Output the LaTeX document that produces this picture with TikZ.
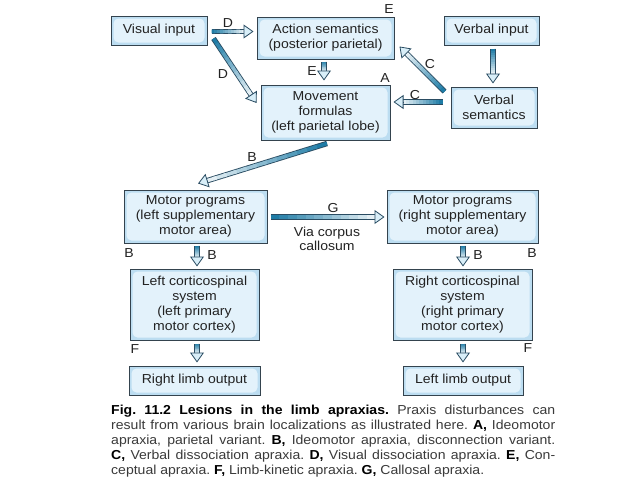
\documentclass[tikz,border=0pt]{standalone}
\usepackage{fontspec}
\setmainfont{Liberation Sans}[FakeStretch=1.08]
\usetikzlibrary{arrows.meta,calc}
\definecolor{boxline}{HTML}{34434E}
\definecolor{boxouter}{HTML}{BCDDF1}
\definecolor{boxinner}{HTML}{E3F2FB}
\definecolor{arrline}{HTML}{2A4C62}
\definecolor{arrmid}{HTML}{1F7CA6}
\definecolor{headfill}{HTML}{D8EEF8}
\definecolor{txt}{HTML}{222222}
\definecolor{captxt}{HTML}{3A3A3A}
\tikzset{
  box/.style={draw=boxline, line width=1pt, fill=boxouter, align=center, text=txt, inner sep=0pt,
    font=\fontsize{13}{15}\selectfont,
    path picture={\fill[boxinner, rounded corners=5pt] ([shift={(2.5pt,-2.5pt)}]path picture bounding box.north west) rectangle ([shift={(-2.5pt,2.5pt)}]path picture bounding box.south east);}},
  lbl/.style={text=txt, font=\fontsize{13}{14}\selectfont, inner sep=0pt},
}
\newcommand\fatarr[2]{%
  \coordinate (fas) at (#1);
  \coordinate (fae) at (#2);
  \coordinate (fam) at ($(fae)!9pt!(fas)$);
  \draw[arrline, line width=5.4pt] (fas) -- (fam);
  \foreach \k in {0,...,11}{%
    \pgfmathsetmacro\ta{\k/12}%
    \pgfmathsetmacro\tb{min(1,(\k+1.3)/12)}%
    \pgfmathtruncatemacro\cc{100-\k*8}%
    \draw[arrmid!\cc!white, line width=3.6pt] ($(fas)!\ta!(fam)$) -- ($(fas)!\tb!(fam)$);
  }%
  \draw[arrline, line width=0.8pt, -{Triangle[length=10pt,width=14pt,fill=headfill]}] (fam) -- (fae);
}
\begin{document}
\frenchspacing
\begin{tikzpicture}[x=1pt,y=-1pt]
\fill[white] (0,0) rectangle (638,479);
\useasboundingbox (0,0) rectangle (638,479);

\node[box, minimum width=96pt, minimum height=29pt] (vis) at (159,30.5) {Visual input};
\node[box, minimum width=137pt, minimum height=42pt] (act) at (325.5,38) {Action semantics\\(posterior parietal)};
\node[box, minimum width=95pt, minimum height=29pt] (vin) at (491.5,30.5) {Verbal input};
\node[box, minimum width=86pt, minimum height=41pt] (vsem) at (494,107.5) {Verbal\\semantics};
\node[box, minimum width=129pt, minimum height=55pt] (mov) at (325.5,112.5) {Movement\\formulas\\(left parietal lobe)};
\node[box, minimum width=143pt, minimum height=53pt] (mpl) at (195.5,216.5) {Motor programs\\(left supplementary\\motor area)};
\node[box, minimum width=151pt, minimum height=53pt] (mpr) at (462.5,216.5) {Motor programs\\(right supplementary\\motor area)};
\node[box, minimum width=129pt, minimum height=71pt] (csl) at (194.5,304.5) {Left corticospinal\\system\\(left primary\\motor cortex)};
\node[box, minimum width=139pt, minimum height=71pt] (csr) at (462.5,304.5) {Right corticospinal\\system\\(right primary\\motor cortex)};
\node[box, minimum width=131pt, minimum height=29pt] (rlo) at (194.5,380.5) {Right limb output};
\node[box, minimum width=120pt, minimum height=29pt] (llo) at (463,380.5) {Left limb output};

\fatarr{$(vis.east)+(4,1)$}{$(act.west)+(-3,-6.5)$}
\fatarr{$(vis.south east)+(6,-7)$}{$(mov.west)+(-4,-9.5)$}
\fatarr{$(act.south)+(-1.5,2)$}{$(mov.north)+(-1.5,-4)$}
\fatarr{$(vsem.north west)+(-6,5)$}{$(act.south east)+(5,-13)$}
\fatarr{$(vsem.west)+(-8,-5.5)$}{$(mov.east)+(3,-10.5)$}
\fatarr{$(vin.south)+(1.5,3)$}{$(vsem.north)+(-1,-3)$}
\fatarr{$(mov.south)+(1.5,3)$}{$(mpl.north)+(2.5,-6)$}
\fatarr{$(mpl.east)+(3,0.5)$}{$(mpr.west)+(-2,0.5)$}
\fatarr{$(mpl.south)+(1.5,2)$}{$(csl.north)+(2.5,-2)$}
\fatarr{$(mpr.south)+(0.5,2)$}{$(csr.north)+(0.5,-2)$}
\fatarr{$(csl.south)+(2.5,3)$}{$(rlo.north)+(2.5,-3)$}
\fatarr{$(csr.south)+(0.5,3)$}{$(llo.north)+(0,-3)$}

\node[lbl] (lD1) at (228,23) {D};
\node[lbl] (lD2) at (223,74) {D};
\node[lbl] (lE1) at (389,9) {E};
\node[lbl] (lE2) at (312,71) {E};
\node[lbl] (lA) at (385,78) {A};
\node[lbl] (lC1) at (430,64) {C};
\node[lbl] (lC2) at (415,95) {C};
\node[lbl] (lB1) at (252,157) {B};
\node[lbl] (lG) at (333,208) {G};
\node[lbl, align=center] (via) at (327,239) {Via corpus\\callosum};
\node[lbl] (lB2) at (129,253) {B};
\node[lbl] (lB3) at (212,255) {B};
\node[lbl] (lB4) at (478,255) {B};
\node[lbl] (lB5) at (532,253) {B};
\node[lbl] (lF1) at (135,349) {F};
\node[lbl] (lF2) at (528,348) {F};

\node[anchor=north west, inner sep=0pt, text width=444pt, align=justify, font=\fontsize{13}{15}\selectfont, text=captxt] (cap) at (111,404.5)
{\textcolor{black}{\textbf{Fig. 11.2 Lesions in the limb apraxias.}} Praxis disturbances can\linebreak
result from various brain localizations as illustrated here. \textcolor{black}{\textbf{A,}} Ideomotor\linebreak
apraxia, parietal variant. \textcolor{black}{\textbf{B,}} Ideomotor apraxia, disconnection variant.\linebreak
\textcolor{black}{\textbf{C,}} Verbal dissociation apraxia. \textcolor{black}{\textbf{D,}} Visual dissociation apraxia. \textcolor{black}{\textbf{E,}} Con-\linebreak
ceptual apraxia. \textcolor{black}{\textbf{F,}} Limb-kinetic apraxia. \textcolor{black}{\textbf{G,}} Callosal apraxia.};
\end{tikzpicture}
\end{document}
